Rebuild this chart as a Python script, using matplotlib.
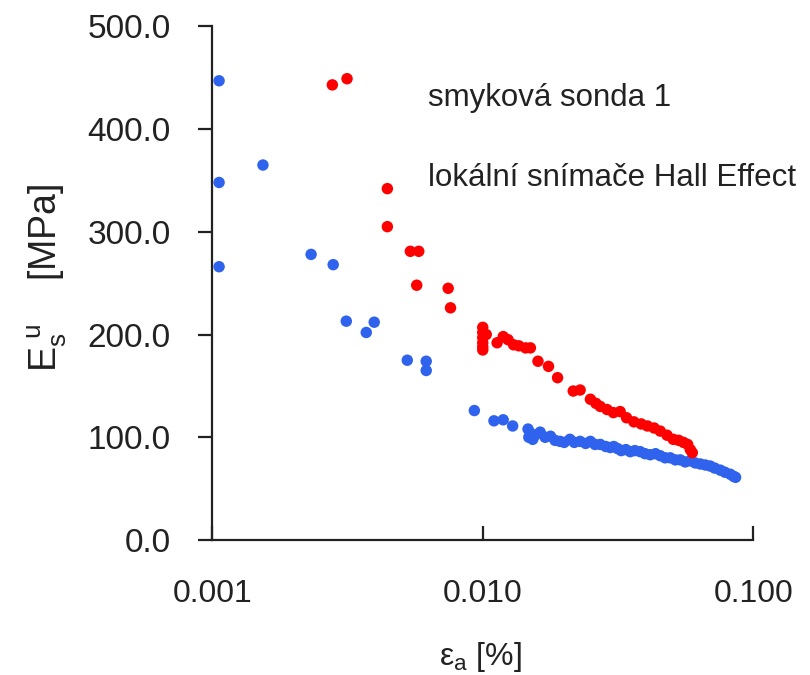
import matplotlib
matplotlib.use('Agg')
import matplotlib.pyplot as plt
from matplotlib.ticker import FixedLocator, FixedFormatter, FormatStrFormatter

plt.rcParams['font.family'] = ['Liberation Sans', 'DejaVu Sans']
plt.rcParams['mathtext.fontset'] = 'custom'
plt.rcParams['mathtext.rm'] = 'Liberation Sans'

# smyková sonda 1 (red)
red_x = [0.00278, 0.00315, 0.00444, 0.00444, 0.0054, 0.0058, 0.0057, 0.00745, 0.0076,
         0.0100, 0.0100, 0.0100, 0.0100, 0.0100, 0.0100, 0.0103,
         0.0113, 0.0119, 0.0124, 0.0130, 0.0136, 0.0144, 0.0150,
         0.0160, 0.0175, 0.0189, 0.0216, 0.0229, 0.0250, 0.0262, 0.0272, 0.0288,
         0.0304, 0.0322, 0.0340, 0.0362, 0.0385, 0.0406, 0.0430, 0.0453, 0.0480,
         0.0506, 0.0530, 0.0552, 0.0572, 0.0585, 0.0595]
red_y = [443, 449, 342, 305, 281, 281, 248, 245, 226,
         207, 202, 197, 192, 188, 185, 200,
         192, 198, 195, 190, 189, 187, 187,
         174, 169, 158, 145, 146, 137, 133, 130, 127,
         124, 125, 119, 115, 113, 111, 109, 106, 102,
         98, 97, 95, 93, 88, 85]

# lokální snímače Hall Effect (blue)
blue_x = [0.00106, 0.00106, 0.00106, 0.00154, 0.00232, 0.0028, 0.00313, 0.00371, 0.00397,
          0.00526, 0.00618, 0.00618, 0.00931, 0.0110, 0.0119, 0.0129,
          0.0147, 0.0148, 0.0150, 0.0153, 0.0156, 0.0163, 0.0170, 0.0178, 0.0185,
          0.0193, 0.0200, 0.0210, 0.0218, 0.0229, 0.0240, 0.0250, 0.0260, 0.0272,
          0.0285, 0.0296, 0.0305, 0.0315, 0.0325, 0.0338, 0.0351, 0.0365, 0.0382,
          0.0398, 0.0416, 0.0435, 0.0453, 0.0472, 0.0493, 0.0515, 0.0537, 0.0560,
          0.0585, 0.0610, 0.0637, 0.0665, 0.0693, 0.0720, 0.0755, 0.0785, 0.0822,
          0.0845, 0.0860]
blue_y = [447, 348, 266, 365, 278, 268, 213, 202, 212,
          175, 174, 165, 126, 116, 117, 111,
          108, 100, 104, 98, 102, 105, 100, 101, 97,
          96, 95, 98, 95, 96, 94, 96, 93, 93,
          91, 90, 91, 89, 87, 88, 86, 87, 86,
          84, 83, 84, 82, 80, 80, 78, 78, 76,
          77, 75, 74, 73, 72, 70, 68, 66, 64,
          62, 61]

x_ticks = [0.001, 0.01, 0.1]
x_tick_labels = ['0.001', '0.010', '0.100']
y_ticks = [0, 100, 200, 300, 400, 500]

fig = plt.figure(figsize=(8.1, 6.75), dpi=100)
ax = fig.add_axes([0.262, 0.2, 0.668, 0.761])

ax.scatter(blue_x, blue_y, s=68, color='#2f63ee', edgecolors='none', zorder=3)
ax.scatter(red_x, red_y, s=68, color='#ff0000', edgecolors='none', zorder=4)

ax.set_xscale('log')
ax.set_xlim(0.001, 0.1)
ax.set_ylim(0, 500)

ax.xaxis.set_major_locator(FixedLocator(x_ticks))
ax.xaxis.set_major_formatter(FixedFormatter(x_tick_labels))
ax.xaxis.set_minor_locator(FixedLocator([]))
ax.yaxis.set_major_locator(FixedLocator(y_ticks))
ax.yaxis.set_major_formatter(FormatStrFormatter('%.1f'))

for side in ['top', 'right']:
    ax.spines[side].set_visible(False)
for side in ['left', 'bottom']:
    ax.spines[side].set_linewidth(1.6)
    ax.spines[side].set_color('#222222')

ax.tick_params(axis='x', direction='in', length=10, width=1.6, pad=28,
               labelsize=23, colors='#222222')
ax.tick_params(axis='y', direction='out', length=10, width=1.6, pad=20,
               labelsize=24, colors='#222222')

ax.set_xlabel(r'ε$_\mathregular{a}$ [%]', fontsize=23, color='#222222')
ax.xaxis.set_label_coords(0.495, -0.195)
ax.set_ylabel(r'E$_\mathregular{s}^{\ \mathregular{u}}$    [MPa]', fontsize=27, color='#222222')
ax.yaxis.set_label_coords(-0.265, 0.51)

fig.text(0.528, 0.855, 'smyková sonda 1', fontsize=22.5, va='center', color='#222222')
fig.text(0.528, 0.736, 'lokální snímače Hall Effect', fontsize=22.5, va='center', color='#222222')

fig.savefig('out.png', dpi=100)
